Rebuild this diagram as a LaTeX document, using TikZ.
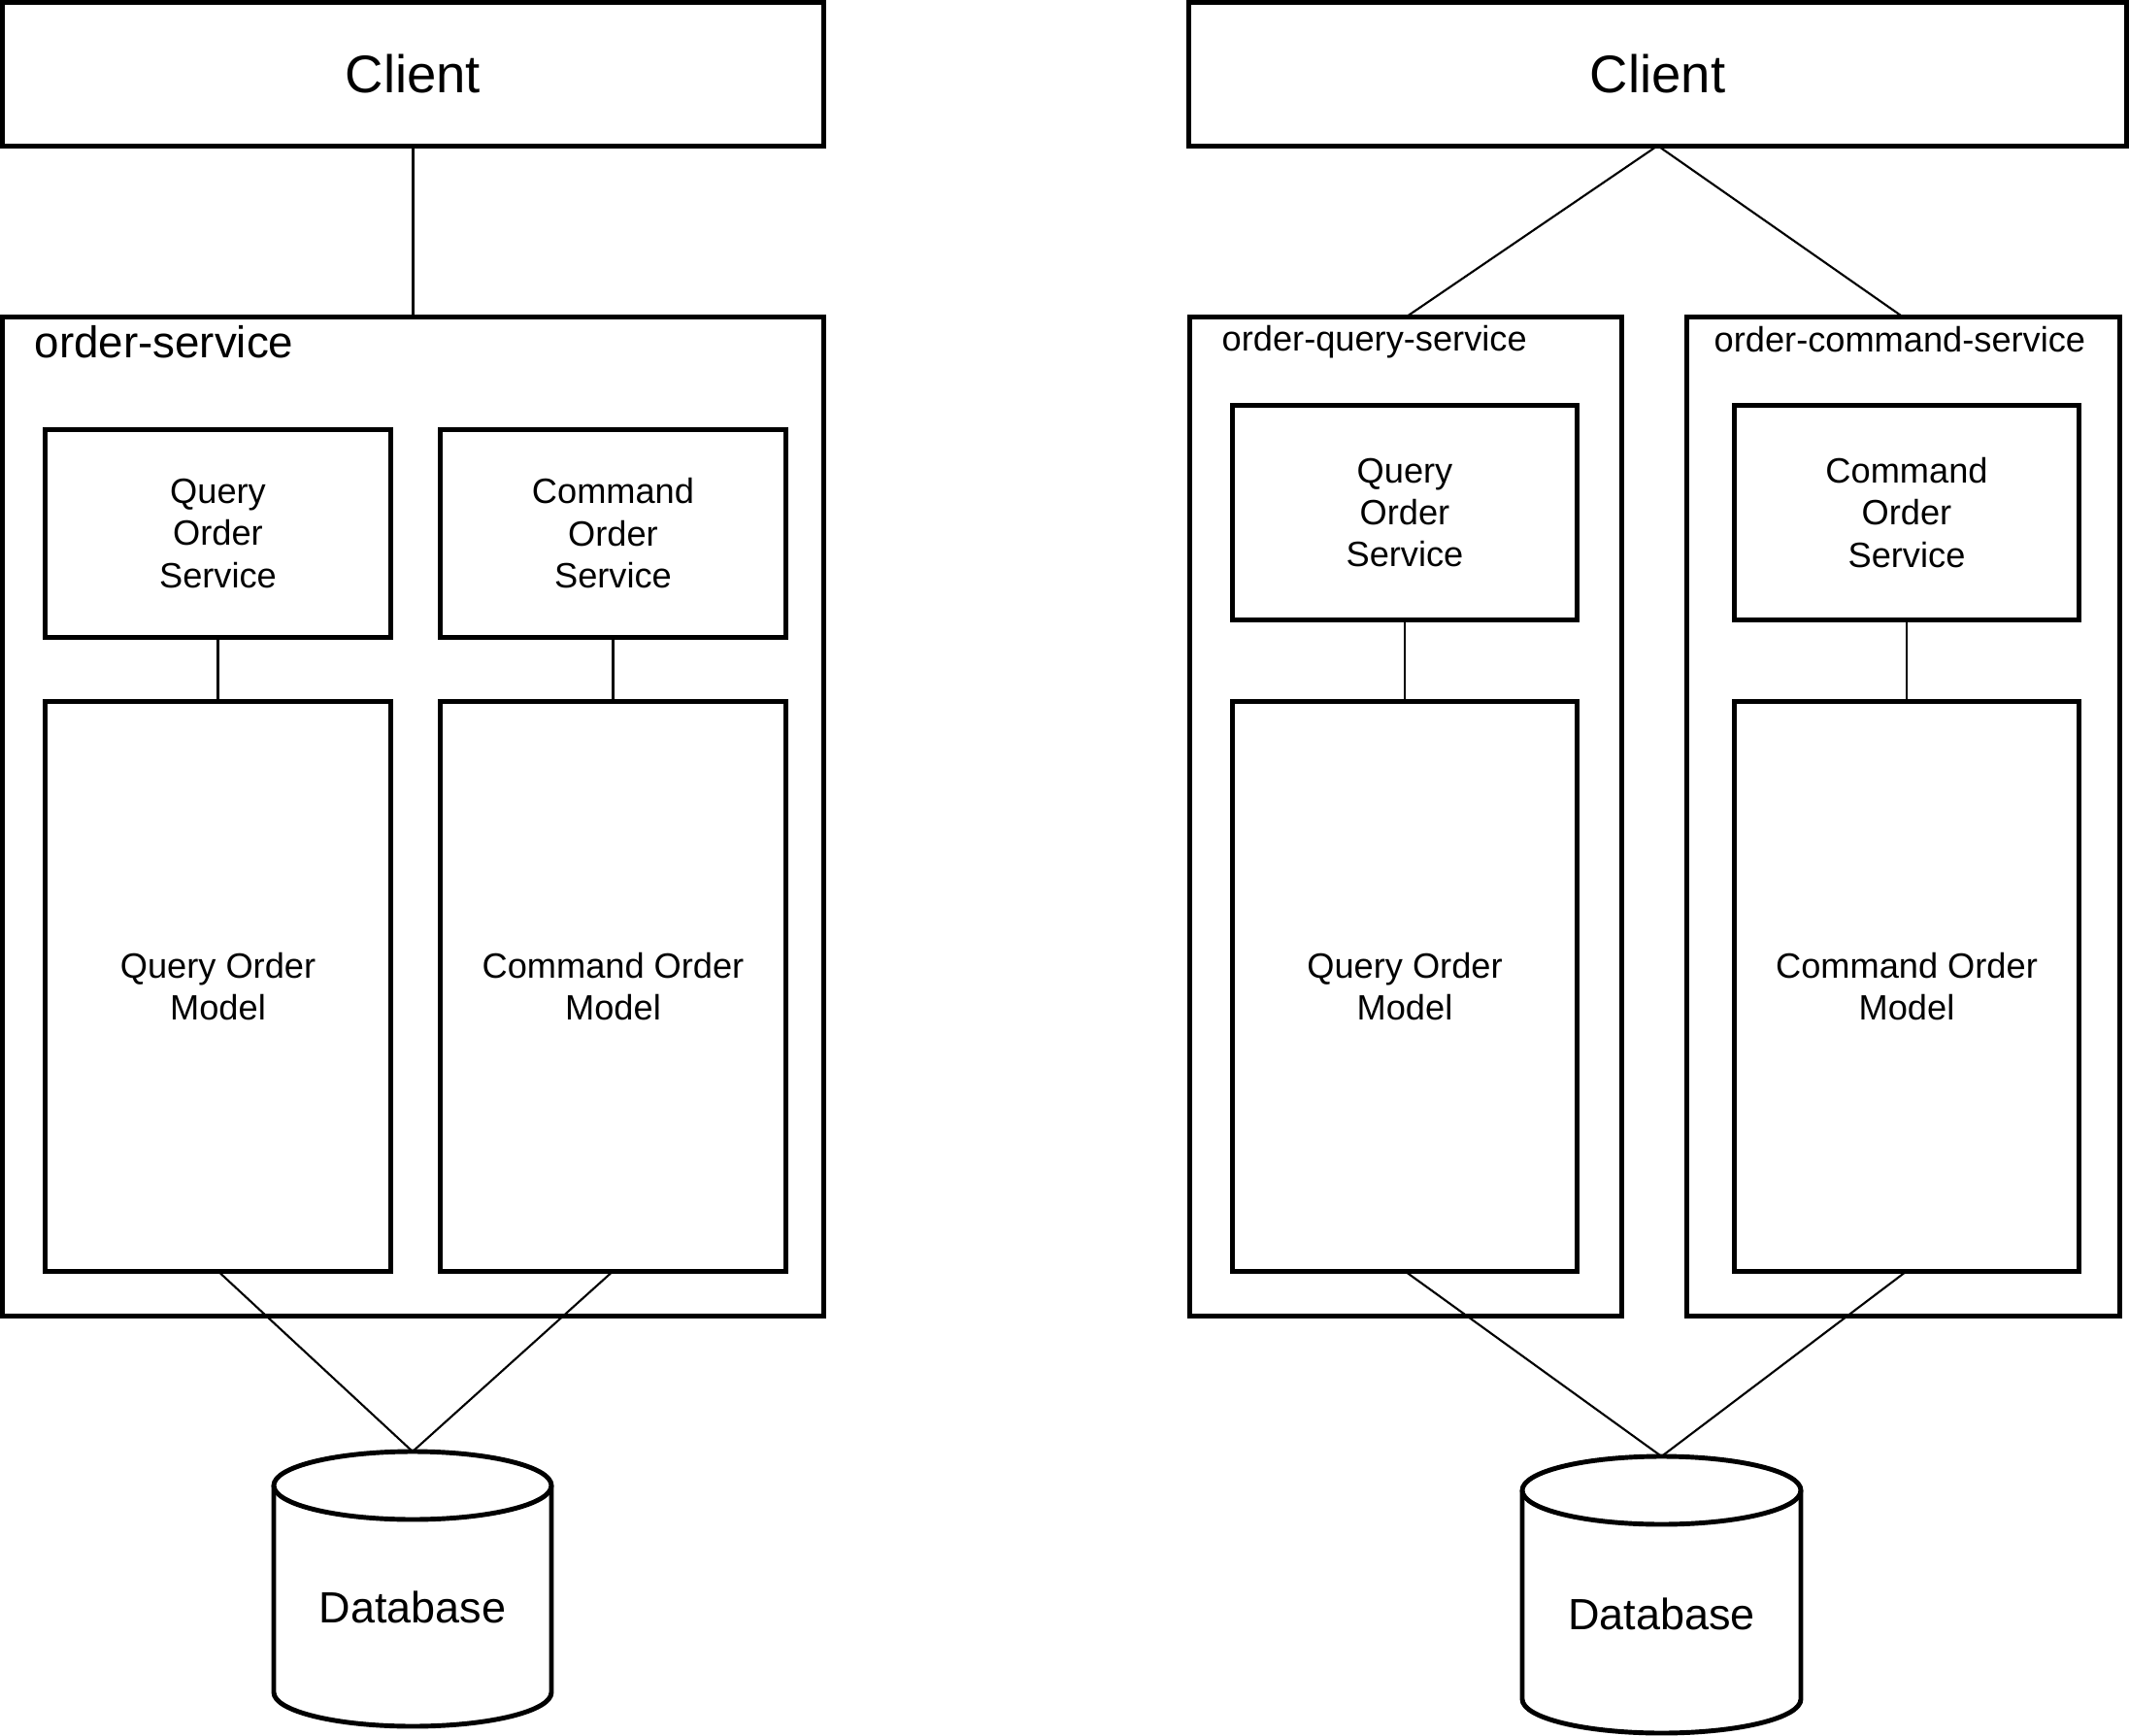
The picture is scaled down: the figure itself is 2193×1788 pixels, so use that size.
\documentclass[tikz,border=0pt]{standalone}
\usepackage{fontspec}
\setmainfont{Liberation Sans}
\newcommand{\fsz}[1]{\fontsize{#1pt}{1.2\dimexpr #1pt\relax}\selectfont}
\tikzset{
  box/.style={draw, line width=1.4pt, inner sep=0pt, outer sep=0pt, align=center, font=\fsz{10.3}},
  bigbox/.style={box, font=\fsz{15.5}},
  sz/.style 2 args={minimum width=#1cm, minimum height=#2cm},
  conn/.style={draw, line width=0.6pt},
  cyl/.style={draw, line width=1.4pt},
  title/.style={inner sep=0pt, anchor=base west},
}
\begin{document}
\begin{tikzpicture}[x=0.01cm, y=0.01cm]
\useasboundingbox (0,0) rectangle (2193,-1788);

% ---------- left ----------
\node[bigbox, sz={8.45}{1.47}] (cl1) at (425.5,-76.5) {Client};
\node[box, sz={8.45}{10.28}] (osvc) at (425.5,-841) {};
\node[title, font=\fsz{13}] (osvclbl) at (35,-368) {order-service};
\node[box, sz={3.55}{2.13}] (qos1) at (224.5,-549.5) {Query\\Order\\Service};
\node[box, sz={3.55}{2.13}] (cos1) at (631.5,-549.5) {Command\\Order\\Service};
\node[box, sz={3.55}{5.86}] (qom1) at (224.5,-1016) {Query Order\\Model};
\node[box, sz={3.55}{5.86}] (com1) at (631.5,-1016) {Command Order\\Model};

% database left
\draw[cyl] (282,-1530) -- (282,-1743) arc[start angle=180, end angle=360, x radius=143, y radius=35] -- (568,-1530);
\draw[cyl] (425,-1530) ellipse [x radius=143, y radius=35];
\coordinate (db1top) at (425,-1495);
\node[inner sep=0pt, font=\fsz{12.8}] (db1) at (425,-1655) {Database};

\draw[conn] (cl1.south) -- (osvc.north);
\draw[conn] (qos1.south) -- (qom1.north);
\draw[conn] (cos1.south) -- (com1.north);
\draw[conn] (qom1.south) -- (db1top);
\draw[conn] (com1.south) -- (db1top);

% ---------- right ----------
\node[bigbox, sz={9.65}{1.47}] (cl2) at (1707.5,-76.5) {Client};
\node[box, sz={4.44}{10.28}] (oqs) at (1448,-841) {};
\node[title, font=\fsz{10.3}] (oqslbl) at (1258,-362) {order-query-service};
\node[box, sz={4.45}{10.28}] (ocs) at (1960.5,-841) {};
\node[title, font=\fsz{10.3}] (ocslbl) at (1765,-363) {order-command-service};
\node[box, sz={3.54}{2.20}] (qos2) at (1447,-528) {Query\\Order\\Service};
\node[box, sz={3.54}{2.20}] (cos2) at (1964,-528) {Command\\Order\\Service};
\node[box, sz={3.54}{5.86}] (qom2) at (1447,-1016) {Query Order\\Model};
\node[box, sz={3.54}{5.86}] (com2) at (1964,-1016) {Command Order\\Model};

% database right
\draw[cyl] (1568,-1535) -- (1568,-1750) arc[start angle=180, end angle=360, x radius=143.5, y radius=35] -- (1855,-1535);
\draw[cyl] (1711.5,-1535) ellipse [x radius=143.5, y radius=35];
\coordinate (db2top) at (1711.5,-1500);
\node[inner sep=0pt, font=\fsz{12.8}] (db2) at (1711.5,-1662) {Database};

\draw[conn] (cl2.south) -- (oqs.north);
\draw[conn] (cl2.south) -- (ocs.north);
\draw[conn] (qos2.south) -- (qom2.north);
\draw[conn] (cos2.south) -- (com2.north);
\draw[conn] (qom2.south) -- (db2top);
\draw[conn] (com2.south) -- (db2top);
\end{tikzpicture}
\end{document}
